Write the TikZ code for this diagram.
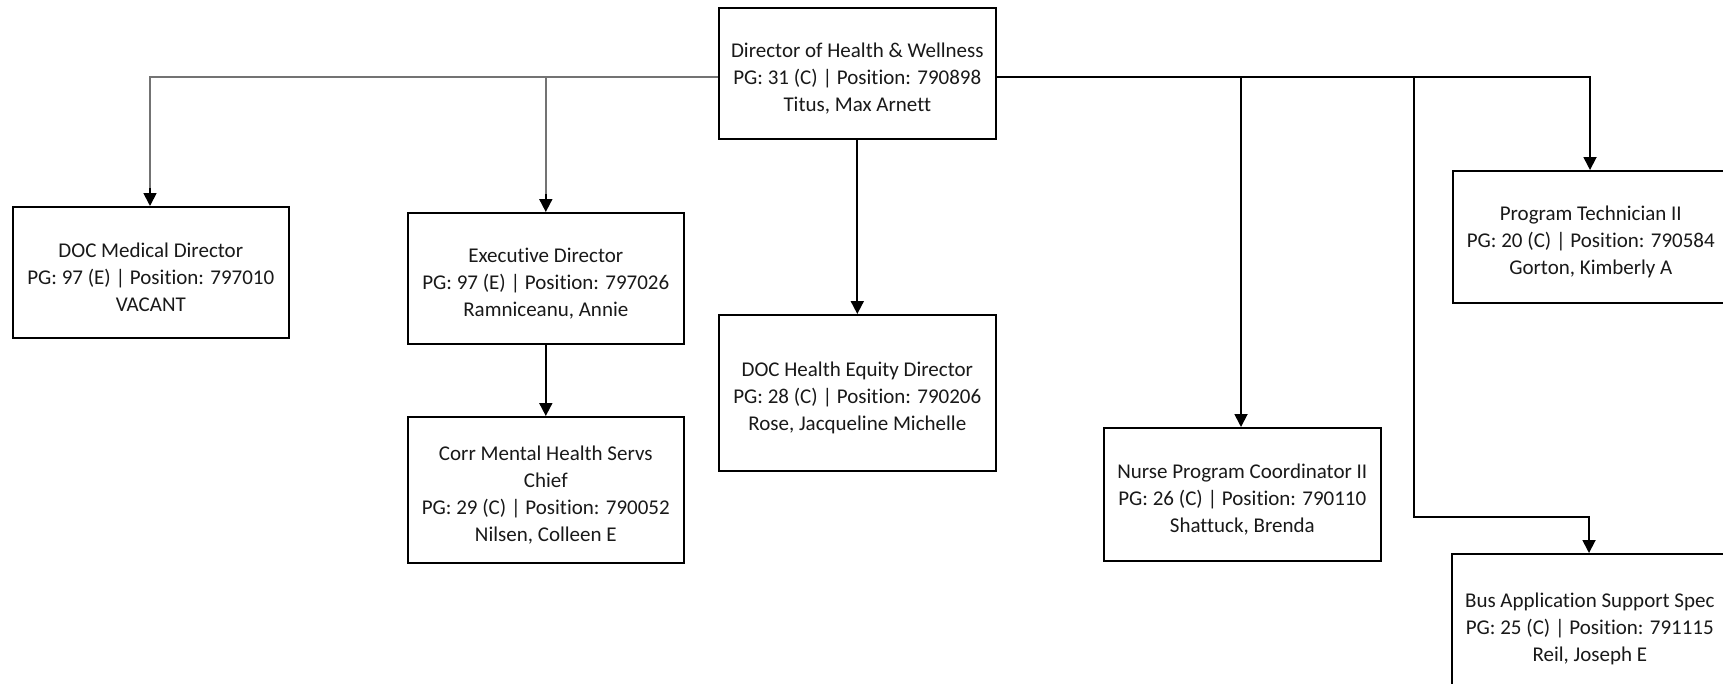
\documentclass[tikz,border=0pt]{standalone}
\usepackage{fontspec}
\setmainfont{Carlito}[Ligatures={NoCommon}]
\usetikzlibrary{arrows.meta}
\newcommand\tpadline{\mbox{}\\[-2pt]}
\tikzset{
  box/.style={draw=black, line width=1.6pt, fill=white, anchor=north west, align=center, inner sep=0pt,
    font=\fontsize{21}{27}\selectfont, text=black!90},
  conn/.style={line width=1.8pt, draw=black},
  gconn/.style={line width=1.4pt, draw=black!55},
  tip/.style={-{Triangle[width=13pt,length=13pt]}},
}
\begin{document}
\begin{tikzpicture}[x=1pt,y=-1pt]
\clip (0,0) rectangle (1723,683);
\fill[white] (0,0) rectangle (1723,683);
\node[box, minimum width=277, minimum height=131] (top) at (718,7) {\tpadline Director of Health \& Wellness\\PG: 31 (C) | Position: 790898\\Titus, Max Arnett};
\node[box, minimum width=276, minimum height=131] (med) at (12,206) {\tpadline DOC Medical Director\\PG: 97 (E) | Position: 797010\\VACANT};
\node[box, minimum width=276, minimum height=131] (exec) at (407,212) {\tpadline Executive Director\\PG: 97 (E) | Position: 797026\\Ramniceanu, Annie};
\node[box, minimum width=276, minimum height=146] (corr) at (407,416) {\tpadline Corr Mental Health Servs\\Chief\\PG: 29 (C) | Position: 790052\\Nilsen, Colleen E};
\node[box, minimum width=277, minimum height=156] (heq) at (718,314) {\tpadline DOC Health Equity Director\\PG: 28 (C) | Position: 790206\\Rose, Jacqueline Michelle};
\node[box, minimum width=277, minimum height=133] (nurse) at (1103,427) {\tpadline Nurse Program Coordinator II\\PG: 26 (C) | Position: 790110\\Shattuck, Brenda};
\node[box, minimum width=276, minimum height=132] (prog) at (1452,170) {\tpadline Program Technician II\\PG: 20 (C) | Position: 790584\\Gorton, Kimberly A};
\node[box, minimum width=276, minimum height=140] (bus) at (1451,553) {\tpadline Bus Application Support Spec\\PG: 25 (C) | Position: 791115\\Reil, Joseph E};
% left side
\coordinate (jl) at (top.west |- 0,77);
\draw[gconn] (jl) -- (150,77) -- (150,190);
\draw[conn, tip] (150,188) -- (med.north -| 150,0);
\draw[gconn] (exec.north |- 0,77) -- (exec.north |- 0,196);
\draw[conn, tip] (exec.north |- 0,194) -- (exec.north);
\draw[conn, tip] (exec.south) -- (corr.north);
\draw[conn, tip] (top.south) -- (heq.north);
% right side
\draw[conn, tip] (top.east |- 0,77) -- (1590,77) -- (1590,170);
\draw[conn, tip] (1241,77) -- (1241,427);
\draw[conn, tip] (1414,77) -- (1414,517) -- (1589,517) -- (1589,553);
\end{tikzpicture}
\end{document}
